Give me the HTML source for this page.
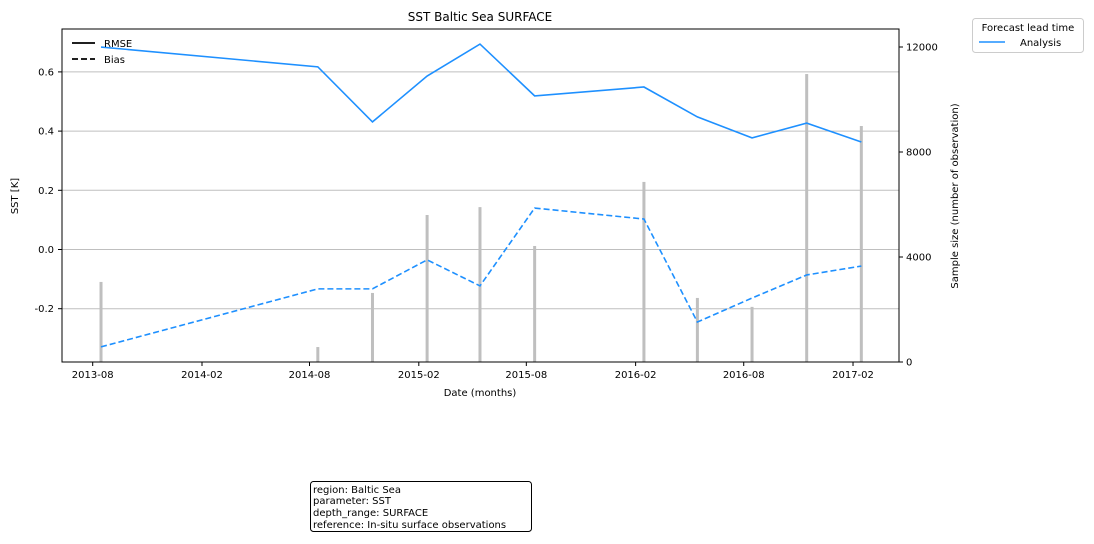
<!DOCTYPE html>
<html><head><meta charset="utf-8">
<style>
body{margin:0;background:#fff;font-family:"DejaVu Sans","Liberation Sans",sans-serif;}
svg text{font-family:"DejaVu Sans","Liberation Sans",sans-serif;}
</style></head>
<body>
<svg id="c" width="1094" height="540" xmlns="http://www.w3.org/2000/svg">
<rect width="1094" height="540" fill="#fff"/>
<text x="480" y="21" font-size="12" text-anchor="middle">SST Baltic Sea SURFACE</text>
<g id="grid"></g><g id="bars"></g><g id="lines"></g>
<rect x="62" y="29" width="837" height="333" fill="none" stroke="#000" stroke-width="1"/>
<g id="axes" font-size="10"></g>
<text x="480" y="396" font-size="10" text-anchor="middle">Date (months)</text>
<text transform="translate(18,196) rotate(-90)" font-size="10" text-anchor="middle">SST [K]</text>
<text transform="translate(958,196) rotate(-90)" font-size="10" text-anchor="middle">Sample size (number of observation)</text>
<g>
<line x1="72" y1="43" x2="95" y2="43" stroke="#000" stroke-width="1.8"/>
<text x="104" y="47" font-size="10">RMSE</text>
<line x1="72" y1="59" x2="95" y2="59" stroke="#000" stroke-width="1.8" stroke-dasharray="6,3"/>
<text x="104" y="63" font-size="10">Bias</text>
</g>
<g>
<rect x="972.5" y="18.5" width="111" height="34" rx="3" fill="#fff" stroke="#ccc"/>
<text x="1028" y="31" font-size="10" text-anchor="middle">Forecast lead time</text>
<line x1="979" y1="42" x2="1005" y2="42" stroke="#1e90ff" stroke-width="1.5"/>
<text x="1020" y="46" font-size="10">Analysis</text>
</g>
<g>
<rect x="310.5" y="481.5" width="221" height="50" rx="3" fill="#fff" stroke="#000"/>
<text x="313" y="493" font-size="10">region: Baltic Sea</text>
<text x="313" y="504" font-size="10">parameter: SST</text>
<text x="313" y="516" font-size="10">depth_range: SURFACE</text>
<text x="313" y="528" font-size="10">reference: In-situ surface observations</text>
</g>
</svg>
<script>
const dates=["2013-08-15","2014-08-15","2014-11-15","2015-02-15","2015-05-15","2015-08-15","2016-02-15","2016-05-15","2016-08-15","2016-11-15","2017-02-15"];
const rmse=[0.684,0.617,0.431,0.586,0.694,0.519,0.549,0.448,0.377,0.427,0.363];
const bias=[-0.329,-0.133,-0.133,-0.035,-0.123,0.14,0.103,-0.245,-0.164,-0.086,-0.056];
const samples=[3050,570,2630,5600,5900,4420,6860,2440,2100,10970,8990];
const xTicks=["2013-08","2014-02","2014-08","2015-02","2015-08","2016-02","2016-08","2017-02"];
const yTicks=[-0.2,0.0,0.2,0.4,0.6];
const y2Ticks=[0,4000,8000,12000];
const NS="http://www.w3.org/2000/svg";
const t0=Date.UTC(2013,7,1);
function days(d){const p=d.split("-").map(Number);return (Date.UTC(p[0],p[1]-1,p[2]||1)-t0)/86400000;}
function X(d){return 92.7+days(d)*0.594;}
function Y(v){return 249.5-v*296;}
function Y2(v){return 362-v*105/4000;}
function mk(tag,attrs,parent,txt){const e=document.createElementNS(NS,tag);for(const k in attrs)e.setAttribute(k,attrs[k]);if(txt!==undefined)e.textContent=txt;parent.appendChild(e);return e;}
const grid=document.getElementById("grid"),bars=document.getElementById("bars"),lines=document.getElementById("lines"),axes=document.getElementById("axes");
yTicks.forEach(v=>{const g=mk("line",{x1:62,x2:899,y1:Y(v),y2:Y(v),stroke:"#bfbfbf","stroke-width":1},grid);


mk("line",{x1:58,x2:62,y1:Y(v),y2:Y(v),stroke:"#000"},axes);
const l=mk("text",{x:54,y:Y(v)+3.5,"text-anchor":"end"},axes,v.toFixed(1));

});
y2Ticks.forEach(v=>{mk("line",{x1:899,x2:903,y1:Y2(v),y2:Y2(v),stroke:"#000"},axes);
const l=mk("text",{x:906,y:Y2(v)+3.5},axes,String(v));

});
xTicks.forEach(d=>{mk("line",{x1:X(d),x2:X(d),y1:362,y2:366,stroke:"#000"},axes);
const l=mk("text",{x:X(d),y:378,"text-anchor":"middle"},axes,d);

});
dates.forEach((d,i)=>{const b=mk("rect",{x:X(d)-1.5,y:Y2(samples[i]),width:3,height:362-Y2(samples[i]),fill:"#bfbfbf"},bars);

});
function pts(a){return dates.map((d,i)=>X(d)+","+Y(a[i])).join(" ");}
const r=mk("polyline",{points:pts(rmse),fill:"none",stroke:"#1e90ff","stroke-width":1.6},lines);


const b=mk("polyline",{points:pts(bias),fill:"none",stroke:"#1e90ff","stroke-width":1.6,"stroke-dasharray":"6,3"},lines);


</script>
</body></html>
